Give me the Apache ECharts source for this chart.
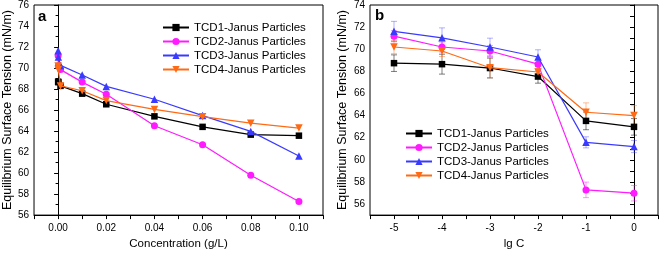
<!DOCTYPE html>
<html><head><meta charset="utf-8">
<script src="https://cdn.jsdelivr.net/npm/echarts@6/dist/echarts.min.js"></script>
<style>html,body{margin:0;padding:0;background:#fff}#c{width:661px;height:255px}</style>
</head><body><div id="c"></div>
<script>
// Panel a: concentration (g/L)
const concA = [0.00001, 0.0001, 0.001, 0.01, 0.02, 0.04, 0.06, 0.08, 0.1];
const tcd1A = [68.7, 68.65, 68.3, 67.56, 66.55, 65.4, 64.4, 63.66, 63.56];
const tcd2A = [71.2, 70.2, 69.85, 68.66, 67.5, 64.5, 62.7, 59.8, 57.3];
const tcd3A = [71.65, 71.05, 70.25, 69.34, 68.25, 67.03, 65.47, 63.97, 61.63];
const tcd4A = [70.2, 69.85, 68.3, 67.84, 66.9, 66.06, 65.37, 64.75, 64.28];
// Panel b: lg C
const lgC = [-5, -4, -3, -2, -1, 0];
const tcd1B = [68.74, 68.65, 68.3, 67.53, 63.52, 62.98];
const tcd2B = [71.18, 70.2, 69.84, 68.65, 57.28, 56.98];
const tcd3B = [71.62, 71.03, 70.2, 69.3, 61.58, 61.2];
const tcd4B = [70.2, 69.84, 68.33, 67.94, 64.3, 64.0];
const err1B = [0.75, 0.9, 0.9, 0.6, 0.8, 0.75];
const err2B = [0.5, 0.45, 0.5, 0.4, 0.7, 0.7];
const err3B = [0.9, 0.9, 0.8, 0.65, 0.5, 0.55];
const err4B = [0.6, 0.5, 0.9, 0.5, 0.85, 0.9];
const names = ['TCD1-Janus Particles', 'TCD2-Janus Particles', 'TCD3-Janus Particles', 'TCD4-Janus Particles'];

const colors = ['#000000', '#ff1aff', '#3a3aff', '#ff6a14'];
const errColors = ['rgba(0,0,0,0.5)', 'rgba(255,26,255,0.45)', 'rgba(58,58,255,0.4)', 'rgba(255,106,20,0.45)'];
const symbols = ['rect', 'circle', 'triangle', 'triangle'];
const rots = [0, 0, 0, 180];
const sizes = [6.5, 7, 7.5, 7.5];
const FONT = 'Liberation Sans, Arial, sans-serif';

const chart = echarts.init(document.getElementById('c'), null, {renderer: 'canvas'});

function zip(xs, ys) { return xs.map((x, i) => [x, ys[i]]); }

const axisCommon = {
  axisLine: {show: true, lineStyle: {color: '#000', width: 1}},
  axisTick: {show: true, inside: false, length: 4, lineStyle: {color: '#000'}},
  splitLine: {show: false},
  axisLabel: {color: '#000', fontSize: 10, fontFamily: FONT},
  nameTextStyle: {color: '#000', fontFamily: FONT}
};

const ysA = [tcd1A, tcd2A, tcd3A, tcd4A];
const ysB = [tcd1B, tcd2B, tcd3B, tcd4B];
const errsB = [err1B, err2B, err3B, err4B];

const series = [];
// error bars (panel b)
ysB.forEach((ys, k) => {
  series.push({
    type: 'custom', name: 'err' + k, xAxisIndex: 1, yAxisIndex: 1, z: 1,
    data: lgC.map((x, i) => [x, ys[i], errsB[k][i]]),
    encode: {x: 0, y: 1},
    renderItem: function (params, api) {
      const x = api.value(0), y = api.value(1), e = api.value(2);
      const hi = api.coord([x, y + e]);
      const lo = api.coord([x, y - e]);
      const w = 3;
      const st = {stroke: errColors[k], lineWidth: 1};
      return {type: 'group', children: [
        {type: 'line', shape: {x1: hi[0], y1: hi[1], x2: lo[0], y2: lo[1]}, style: st},
        {type: 'line', shape: {x1: hi[0] - w, y1: hi[1], x2: hi[0] + w, y2: hi[1]}, style: st},
        {type: 'line', shape: {x1: lo[0] - w, y1: lo[1], x2: lo[0] + w, y2: lo[1]}, style: st}
      ]};
    }
  });
});
ysA.forEach((ys, k) => {
  series.push({
    type: 'line', name: names[k], xAxisIndex: 0, yAxisIndex: 0, z: 3 + k,
    data: zip(concA, ys), smooth: false,
    symbol: symbols[k], symbolRotate: rots[k], symbolSize: sizes[k], showAllSymbol: true,
    lineStyle: {color: colors[k], width: 1.2}, itemStyle: {color: colors[k]}
  });
});
ysB.forEach((ys, k) => {
  series.push({
    type: 'line', name: names[k], xAxisIndex: 1, yAxisIndex: 1, z: 3 + k,
    data: zip(lgC, ys),
    symbol: symbols[k], symbolRotate: rots[k], symbolSize: sizes[k],
    lineStyle: {color: colors[k], width: 1.2}, itemStyle: {color: colors[k]}
  });
});

const legendCommon = {
  orient: 'vertical', itemWidth: 26, itemHeight: 9, itemGap: 1, padding: 0,
  textStyle: {color: '#000', fontSize: 11.5, fontFamily: FONT, lineHeight: 13},
  data: names, selectedMode: false
};

chart.setOption({
  animation: false,
  textStyle: {fontFamily: FONT},
  grid: [
    {left: 33, right: 338, top: 5, bottom: 37, show: true, borderColor: '#000', borderWidth: 1},
    {left: 370, right: 3, top: 5, bottom: 37, show: true, borderColor: '#000', borderWidth: 1}
  ],
  xAxis: [
    Object.assign({}, axisCommon, {
      type: 'value', gridIndex: 0, min: -0.01, max: 0.11, interval: 0.01,
      name: 'Concentration (g/L)', nameLocation: 'middle', nameGap: 22,
      nameTextStyle: {color: '#000', fontFamily: FONT, fontSize: 11.5},
      axisLabel: Object.assign({}, axisCommon.axisLabel, {
        formatter: v => { const n = Math.round(v * 100); return (n >= 0 && n <= 10 && n % 2 === 0) ? (n / 100).toFixed(2) : ''; }
      })
    }),
    Object.assign({}, axisCommon, {
      type: 'value', gridIndex: 1, min: -5.5, max: 0.5, interval: 0.5,
      name: 'lg C', nameLocation: 'middle', nameGap: 22,
      nameTextStyle: {color: '#000', fontFamily: FONT, fontSize: 11.5},
      axisLabel: Object.assign({}, axisCommon.axisLabel, {
        formatter: v => { const r = Math.round(v * 2); return (r % 2 === 0 && v >= -5 && v <= 0) ? String(r / 2) : ''; }
      })
    })
  ],
  yAxis: [
    Object.assign({}, axisCommon, {
      type: 'value', gridIndex: 0, min: 56, max: 76, interval: 2,
      minorTick: {show: true, splitNumber: 2, length: 2.5, lineStyle: {color: '#000'}},
      name: 'Equilibrium Surface Tension (mN/m)', nameLocation: 'middle', nameGap: 20,
      nameTextStyle: {color: '#000', fontFamily: FONT, fontSize: 12.5},
      axisLabel: Object.assign({}, axisCommon.axisLabel, {margin: 5})
    }),
    Object.assign({}, axisCommon, {
      type: 'value', gridIndex: 1, min: 55, max: 74, interval: 1,
      name: 'Equilibrium Surface Tension (mN/m)', nameLocation: 'middle', nameGap: 21,
      nameTextStyle: {color: '#000', fontFamily: FONT, fontSize: 12.5},
      axisLabel: Object.assign({}, axisCommon.axisLabel, {margin: 5,
        formatter: v => (Math.round(v) % 2 === 0) ? String(Math.round(v)) : ''})
    })
  ],
  legend: [
    Object.assign({}, legendCommon, {left: 162, top: 21}),
    Object.assign({}, legendCommon, {left: 405, top: 127})
  ],
  graphic: [
    {type: 'text', left: 38, top: 9, style: {text: 'a', font: 'bold 15px ' + FONT, fill: '#000'}},
    {type: 'text', left: 375, top: 8, style: {text: 'b', font: 'bold 15px ' + FONT, fill: '#000'}}
  ],
  series: series
});
</script></body></html>
